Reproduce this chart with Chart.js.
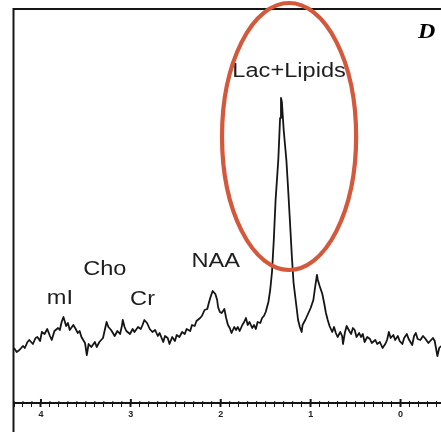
<!DOCTYPE html>
<html>
<head>
<meta charset="utf-8">
<script src="https://cdn.jsdelivr.net/npm/chart.js@4/dist/chart.umd.min.js"></script>
<style>
  html, body { margin: 0; padding: 0; background: #fff; }
  #wrap { width: 441px; height: 432px; position: relative; }
</style>
</head>
<body>
<div id="wrap"><canvas id="c" width="441" height="432"></canvas></div>
<script>
// Chemical shift (ppm) and signal intensity (arbitrary units)
const ppm = [
  4.30, 4.27, 4.24, 4.20, 4.18, 4.15, 4.13, 4.09, 4.06, 4.04,
  4.01, 3.99, 3.96, 3.93, 3.90, 3.88, 3.85, 3.81, 3.79, 3.77,
  3.75, 3.72, 3.70, 3.68, 3.64, 3.62, 3.59, 3.57, 3.55, 3.51,
  3.49, 3.47, 3.44, 3.40, 3.38, 3.35, 3.31, 3.29, 3.27, 3.25,
  3.22, 3.20, 3.18, 3.15, 3.12, 3.10, 3.09, 3.07, 3.05, 3.01,
  2.98, 2.96, 2.92, 2.89, 2.87, 2.85, 2.82, 2.79, 2.76, 2.73,
  2.70, 2.68, 2.64, 2.62, 2.59, 2.57, 2.54, 2.51, 2.49, 2.46,
  2.43, 2.40, 2.38, 2.34, 2.32, 2.29, 2.27, 2.23, 2.21, 2.18,
  2.15, 2.13, 2.11, 2.09, 2.06, 2.04, 2.03, 2.01, 1.99, 1.96,
  1.94, 1.92, 1.90, 1.88, 1.85, 1.83, 1.81, 1.79, 1.76, 1.74,
  1.72, 1.70, 1.68, 1.65, 1.63, 1.61, 1.59, 1.56, 1.54, 1.52,
  1.50, 1.47, 1.45, 1.43, 1.41, 1.39, 1.36, 1.34, 1.33, 1.32,
  1.30, 1.27, 1.25, 1.23, 1.21, 1.19, 1.16, 1.14, 1.12, 1.10,
  1.09, 1.06, 1.04, 1.02, 1.00, 0.97, 0.95, 0.93, 0.92, 0.90,
  0.87, 0.85, 0.83, 0.81, 0.79, 0.76, 0.74, 0.72, 0.70, 0.67,
  0.65, 0.64, 0.62, 0.60, 0.57, 0.55, 0.53, 0.51, 0.49, 0.46,
  0.44, 0.42, 0.40, 0.37, 0.34, 0.32, 0.28, 0.26, 0.23, 0.20,
  0.17, 0.15, 0.13, 0.11, 0.08, 0.06, 0.03, 0.01, -0.02, -0.04,
  -0.07, -0.09, -0.13, -0.15, -0.17, -0.19, -0.22, -0.25, -0.27, -0.31,
  -0.33, -0.36, -0.38, -0.41, -0.43, -0.45
];
const intensity = [
  55, 51, 53, 57, 55, 61, 63, 59, 65, 66,
  62, 71, 69, 74, 67, 63, 72, 75, 73, 81,
  86, 77, 80, 73, 78, 75, 70, 72, 66, 60,
  48, 59, 56, 61, 56, 61, 65, 73, 81, 76,
  73, 70, 67, 72, 69, 77, 83, 76, 72, 69,
  74, 71, 76, 74, 78, 83, 80, 74, 71, 73,
  67, 70, 61, 67, 65, 59, 66, 62, 68, 66,
  71, 69, 74, 72, 78, 77, 82, 85, 87, 93,
  94, 101, 107, 112, 109, 103, 96, 91, 90, 94,
  85, 78, 75, 70, 76, 73, 76, 72, 78, 81,
  85, 78, 81, 75, 78, 74, 81, 80, 85, 87,
  91, 101, 113, 131, 163, 203, 243, 285, 305, 301,
  273, 243, 213, 181, 148, 120, 98, 83, 76, 71,
  78, 83, 87, 91, 95, 103, 116, 128, 123, 117,
  109, 100, 90, 83, 77, 71, 76, 70, 66, 71,
  67, 59, 70, 77, 72, 69, 75, 73, 66, 70,
  66, 69, 61, 66, 64, 60, 63, 59, 61, 55,
  59, 63, 71, 65, 68, 63, 67, 62, 59, 65,
  69, 64, 58, 67, 70, 64, 63, 67, 65, 60,
  62, 65, 62, 47, 55, 57
];

// Axis range and ticks (ppm, reversed)
const xMin = -0.45, xMax = 4.30, xStep = 0.1;
const yMin = 0, yMax = 394;

// Peak annotations
const peakLabels = ['Lac+Lipids', 'Cho', 'NAA', 'mI', 'Cr'];
const peakLabelPpm = [1.24, 3.29, 2.055, 3.79, 2.87];
const peakLabelInt = [326, 128, 136, 99, 98];

// Highlight ellipse around the Lac+Lipids peak (data units)
const ellipseCenter = [1.24, 266.5];
const ellipseHalf = [0.746, 133.5];

const panelLetter = 'D';

const isWhole = v => Math.abs(v - Math.round(v)) < 1e-6;

const decor = {
  id: 'decor',
  afterDraw(chart) {
    const ctx = chart.ctx;
    const a = chart.chartArea;
    const xs = chart.scales.x, ys = chart.scales.y;
    ctx.save();
    // frame: left and top border
    ctx.strokeStyle = '#161616';
    ctx.lineWidth = 2;
    ctx.beginPath();
    ctx.moveTo(a.left - 0.5, chart.height);
    ctx.lineTo(a.left - 0.5, a.top);
    ctx.lineTo(chart.width, a.top);
    ctx.stroke();

    // tick marks crossing above the axis line
    ctx.strokeStyle = '#141414';
    xs.ticks.forEach(t => {
      const px = xs.getPixelForValue(t.value);
      const major = isWhole(t.value);
      ctx.lineWidth = major ? 2 : 1;
      ctx.beginPath();
      ctx.moveTo(px, a.bottom);
      ctx.lineTo(px, a.bottom - (major ? 4 : 2));
      ctx.stroke();
    });

    // peak labels
    ctx.fillStyle = '#1e1e1e';
    ctx.textAlign = 'center';
    ctx.textBaseline = 'alphabetic';
    peakLabels.forEach((t, i) => {
      const px = xs.getPixelForValue(peakLabelPpm[i]);
      const py = ys.getPixelForValue(peakLabelInt[i]);
      ctx.save();
      ctx.translate(px, py);
      ctx.scale(1.18, 1);
      ctx.font = '20px "Liberation Sans", Arial, sans-serif';
      ctx.fillText(t, 0, 0);
      ctx.restore();
    });

    // panel letter
    ctx.save();
    ctx.translate(a.right - 23, a.top + 29);
    ctx.scale(1.2, 1);
    ctx.textAlign = 'left';
    ctx.font = 'italic bold 20px "Liberation Serif", "Times New Roman", serif';
    ctx.fillStyle = '#000';
    ctx.fillText(panelLetter, 0, 0);
    ctx.restore();

    // highlight ellipse
    const cx = xs.getPixelForValue(ellipseCenter[0]);
    const cy = ys.getPixelForValue(ellipseCenter[1]);
    const rx = Math.abs(xs.getPixelForValue(ellipseCenter[0] - ellipseHalf[0]) - cx);
    const ry = Math.abs(ys.getPixelForValue(ellipseCenter[1] + ellipseHalf[1]) - cy);
    ctx.strokeStyle = '#d4583c';
    ctx.lineWidth = 4.2;
    ctx.beginPath();
    ctx.ellipse(cx, cy, rx, ry, 0, 0, Math.PI * 2);
    ctx.stroke();
    ctx.restore();
  }
};

new Chart(document.getElementById('c'), {
  type: 'line',
  data: {
    datasets: [{
      data: ppm.map((p, i) => ({ x: p, y: intensity[i] })),
      borderColor: '#151515',
      borderWidth: 1.8,
      borderJoinStyle: 'round',
      pointRadius: 0,
      tension: 0,
      fill: false
    }]
  },
  options: {
    responsive: false,
    animation: false,
    events: [],
    layout: { padding: { left: 14, top: 9, right: 0, bottom: 0 } },
    plugins: { legend: { display: false }, tooltip: { enabled: false } },
    scales: {
      x: {
        type: 'linear',
        reverse: true,
        min: xMin,
        max: xMax,
        afterFit: s => { s.height = 29; },
        border: { display: true, color: '#141414', width: 2 },
        grid: {
          drawOnChartArea: false,
          drawTicks: true,
          tickLength: 4,
          tickColor: '#141414',
          tickWidth: c => (c.tick && isWhole(c.tick.value)) ? 2 : 1
        },
        ticks: {
          stepSize: xStep,
          maxTicksLimit: 1000,
          autoSkip: false,
          includeBounds: false,
          maxRotation: 0,
          padding: 2,
          color: '#222',
          font: { size: 9, weight: 'bold', family: '"Liberation Sans", Arial, sans-serif' },
          callback: v => isWhole(v) ? String(Math.round(v)) : ''
        }
      },
      y: {
        display: false,
        min: yMin,
        max: yMax
      }
    }
  },
  plugins: [decor]
});
</script>
</body>
</html>
